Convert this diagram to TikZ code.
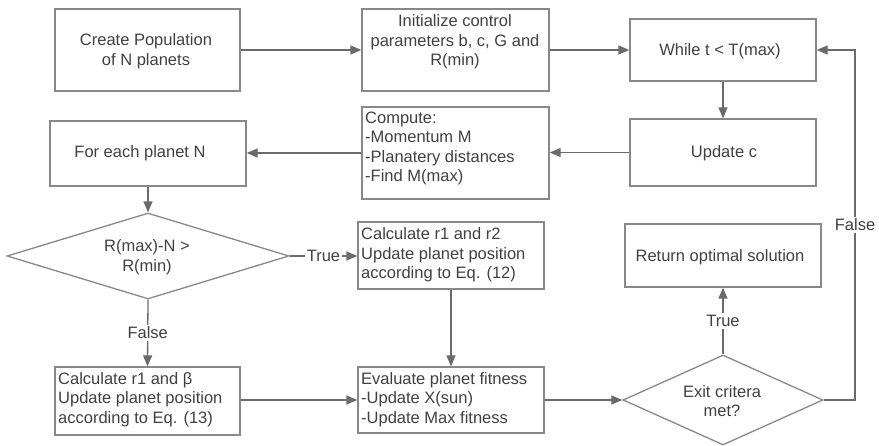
\documentclass[tikz,border=0pt]{standalone}
\usepackage{fontspec}
\setmainfont{Liberation Sans}
\usetikzlibrary{arrows.meta,shapes.geometric}

\definecolor{linegray}{HTML}{6A6A6A}
\definecolor{boxgray}{HTML}{888888}
\definecolor{txtgray}{HTML}{404040}

\begin{document}
\begin{tikzpicture}[x=1pt,y=-1pt,
  font=\fontsize{16.5}{19.5}\selectfont,
  box/.style={draw=boxgray, line width=1.3pt, rectangle, inner sep=0pt},
  decision/.style={draw=boxgray, line width=1.3pt, diamond, inner sep=0pt},
  txt/.style={text=txtgray, inner sep=0pt},
  ltxt/.style={txt, anchor=west, align=left},
  ctxt/.style={txt, align=center},
  arr/.style={draw=linegray, line width=1.3pt,
    -{Triangle[length=11pt,width=9pt,fill=linegray]}},
  lbl/.style={fill=white, text=txtgray, inner sep=2pt}]

\useasboundingbox (0,0) rectangle (879,446);

% boxes
\node[box, minimum width=185pt, minimum height=82pt] (create) at (147.5,50) {};
\node[box, minimum width=187pt, minimum height=82pt] (init) at (455.5,50) {};
\node[box, minimum width=186pt, minimum height=62pt] (while) at (723,50) {};
\node[box, minimum width=186pt, minimum height=67pt] (update) at (723,152.5) {};
\node[box, minimum width=187pt, minimum height=92pt] (compute) at (455.5,153) {};
\node[box, minimum width=196pt, minimum height=65pt] (foreach) at (148,153.5) {};
\node[decision, minimum width=282pt, minimum height=86pt] (dec) at (148,256) {};
\node[box, minimum width=186pt, minimum height=67pt] (calc2) at (451,255.5) {};
\node[box, minimum width=196pt, minimum height=63pt] (ret) at (723,255.5) {};
\node[box, minimum width=185pt, minimum height=68pt] (calcb) at (147.5,401) {};
\node[box, minimum width=186pt, minimum height=66pt] (eval) at (451,400) {};
\node[decision, minimum width=200pt, minimum height=90pt] (exit) at (723,400) {};

% texts
\node[ctxt] (tcreate) at (146,51) {Create Population\\of N planets};
\node[ctxt] (tinit) at (455,42) {Initialize control\\parameters b, c, G and\\R(min)};
\node[ctxt] (twhile) at (720,51) {While t < T(max)};
\node[ctxt] (tupdate) at (724,153) {Update c};
\node[ltxt] (tcompute) at (365,148.5) {Compute:\\-Momentum M\\-Planatery distances\\-Find M(max)};
\node[ctxt] (tforeach) at (140,153) {For each planet N};
\node[ctxt] (tdec) at (147,257) {R(max)-N >\\R(min)};
\node[ltxt] (tcalc2) at (361,255) {Calculate r1 and r2\\Update planet position\\according to Eq. (12)};
\node[ctxt] (tret) at (720,257) {Return optimal solution};
\node[ltxt] (tcalcb) at (58,399.5) {Calculate r1 and β\\Update planet position\\according to Eq. (13)};
\node[ltxt] (teval) at (361,399.5) {Evaluate planet fitness\\-Update X(sun)\\-Update Max fitness};
\node[ctxt] (texit) at (722,401) {Exit critera\\met?};

% connectors
\coordinate (fb) at (855,50);
\draw[arr] (create) -- (init);
\draw[arr] (init) -- (while);
\draw[arr] (while) -- (update);
\draw[arr] (update.west) -- (compute.east |- update.west);
\draw[arr] (compute.west) -- (foreach.east |- compute.west);
\draw[arr] (foreach) -- (dec);
\draw[arr] (dec.east) -- node[lbl] {True} (calc2.west |- dec.east);
\draw[arr] (dec.south) -- node[lbl] {False} (calcb.north);
\draw[arr] (calc2) -- (eval);
\draw[arr] (calcb.east |- eval.west) -- (eval.west);
\draw[arr] (eval) -- (exit);
\draw[arr] (exit.north) -- node[lbl] {True} (ret.south);
\draw[arr] (exit.east) -| node[lbl, pos=0.75] {False} (fb) -- (while.east);

\end{tikzpicture}
\end{document}
